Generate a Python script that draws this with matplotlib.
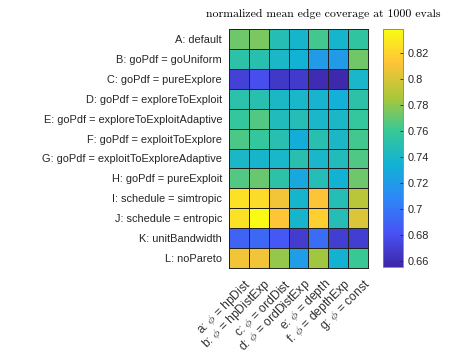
import numpy as np
import matplotlib
matplotlib.use("Agg")
import matplotlib.pyplot as plt
from matplotlib.colors import LinearSegmentedColormap
from matplotlib.transforms import ScaledTranslation

plt.rcParams['font.family'] = ['Liberation Sans', 'DejaVu Sans']
plt.rcParams['mathtext.fontset'] = 'cm'

# row / column labels
rows = ['A: default',
        'B: goPdf = goUniform',
        'C: goPdf = pureExplore',
        'D: goPdf = exploreToExploit',
        'E: goPdf = exploreToExploitAdaptive',
        'F: goPdf = exploitToExplore',
        'G: goPdf = exploitToExploreAdaptive',
        'H: goPdf = pureExploit',
        'I: schedule = simtropic',
        'J: schedule = entropic',
        'K: unitBandwidth',
        'L: noPareto']
cols = [r'a: $\phi$ = hpDist',
        r'b: $\phi$ = hpDistExp',
        r'c: $\phi$ = ordDist',
        r'd: $\phi$ = ordDistExp',
        r'e: $\phi$ = depth',
        r'f: $\phi$ = depthExp',
        r'g: $\phi$ = const']

# values (rows A..L, columns a..g)
vals = np.array([
    [0.772, 0.775, 0.748, 0.738, 0.762, 0.738, 0.756],
    [0.753, 0.750, 0.740, 0.734, 0.719, 0.719, 0.773],
    [0.671, 0.679, 0.666, 0.667, 0.659, 0.657, 0.739],
    [0.752, 0.750, 0.741, 0.739, 0.737, 0.733, 0.753],
    [0.758, 0.766, 0.745, 0.747, 0.739, 0.740, 0.758],
    [0.764, 0.758, 0.749, 0.731, 0.749, 0.740, 0.762],
    [0.740, 0.738, 0.739, 0.750, 0.739, 0.745, 0.765],
    [0.766, 0.771, 0.753, 0.728, 0.747, 0.734, 0.772],
    [0.826, 0.823, 0.808, 0.738, 0.812, 0.748, 0.790],
    [0.827, 0.8385, 0.813, 0.738, 0.817, 0.747, 0.801],
    [0.690, 0.692, 0.684, 0.668, 0.694, 0.670, 0.670],
    [0.808, 0.808, 0.781, 0.721, 0.784, 0.735, 0.760],
])
vmin, vmax = 0.655, 0.8385
cticks = [0.66, 0.68, 0.7, 0.72, 0.74, 0.76, 0.78, 0.8, 0.82]

# parula-like colormap
parula = LinearSegmentedColormap.from_list('parula', [
    (0.2422, 0.1504, 0.6603),
    (0.2810, 0.3228, 0.9579),
    (0.1786, 0.5289, 0.9682),
    (0.0689, 0.6948, 0.8394),
    (0.2161, 0.7843, 0.5923),
    (0.6720, 0.7793, 0.2227),
    (0.9970, 0.7659, 0.2199),
    (0.9769, 0.9839, 0.0805)])

fig = plt.figure(figsize=(4.49, 3.56), dpi=100)
ax = fig.add_axes([229/449, 1-268/356, 139/449, 239/356])
cax = fig.add_axes([383/449, 1-267/356, 20/449, 238/356])

m = ax.pcolormesh(vals, cmap=parula, vmin=vmin, vmax=vmax,
                  edgecolors='#202020', linewidth=0.7)
ax.set_xlim(0, len(cols))
ax.set_ylim(len(rows), 0)
ax.set_xticks(np.arange(len(cols)) + 0.5)
ax.set_yticks(np.arange(len(rows)) + 0.5)
ax.set_yticklabels(rows, fontsize=7.9, color='#262626')
ax.set_xticklabels(cols, fontsize=8.7, color='#333333', rotation=45,
                   ha='right', va='center', rotation_mode='anchor')
ax.tick_params(length=0, pad=5)
ax.tick_params(axis='x', pad=9)
shift = ScaledTranslation(10.5/100, -1.5/100, fig.dpi_scale_trans)
for lbl in ax.get_xticklabels():
    lbl.set_transform(lbl.get_transform() + shift)
for s in ax.spines.values():
    s.set_color('#202020')
    s.set_linewidth(0.7)

fig.text(323/449, 1-14/356, 'normalized mean edge coverage at 1000 evals',
         family='cmr10', ha='center', va='center', fontsize=8.5)

cb = fig.colorbar(m, cax=cax, ticks=cticks)
cb.ax.tick_params(direction='in', length=2.5, labelsize=7.9, width=0.6,
                  colors='#262626', pad=3)
cb.ax.set_yticklabels(['0.66', '0.68', '0.7', '0.72', '0.74', '0.76',
                       '0.78', '0.8', '0.82'])
cb.outline.set_edgecolor('#808080')
cb.outline.set_linewidth(0.6)

fig.savefig('out.png', dpi=100)
